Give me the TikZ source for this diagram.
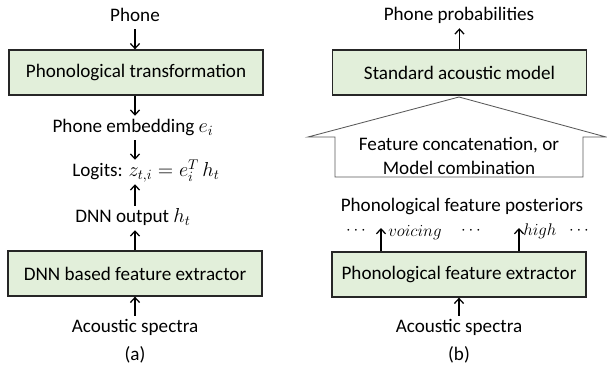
\documentclass[tikz,border=0pt]{standalone}
\usepackage{fontspec}
\setmainfont{Carlito}
\usetikzlibrary{arrows.meta}

\definecolor{boxgreen}{HTML}{E2EFDA}
\tikzset{
  block/.style={draw=black!85, line width=0.9pt, fill=boxgreen,
    minimum width=6.35cm, minimum height=1.125cm, inner sep=0pt},
  lbl/.style={inner sep=2pt, text height=10pt, text depth=3pt},
  feat/.style={inner sep=0pt, font=\fontsize{11.5pt}{13pt}\selectfont},
  arr/.style={-{Straight Barb[length=3.5pt,width=6.5pt]}, line width=0.9pt},
}

\begin{document}
\begin{tikzpicture}[x=0.025cm, y=-0.025cm, font=\fontsize{13.6pt}{16pt}\selectfont]
    \useasboundingbox (0,0) rectangle (607,368);

    % Draw (a): phone embedding side
    \node[lbl] (phoneA) at (135,17) {Phone};
    \node[block] (trans) at (136,72.5) {Phonological transformation};
    \node[lbl] (embed) at (133,128) {Phone embedding $e_i$};
    \node[lbl] (logits) at (146,172) {Logits: $z_{t,i} = e_i^{T}\,h_t$};
    \node[lbl] (dnnout) at (133,218) {DNN output $h_t$};
    \node[block] (dnn) at (135,273.5) {DNN based feature extractor};
    \node[lbl] (specA) at (135,328) {Acoustic spectra};
    \node (capA) at (135,355) {(a)};

    \draw[arr] (phoneA.south) -- (phoneA.south |- trans.north);
    \draw[arr] (phoneA.south |- trans.south) -- (phoneA.south |- embed.north);
    \draw[arr] (phoneA.south |- embed.south) -- (phoneA.south |- logits.north);
    \draw[arr] (phoneA.south |- dnnout.north) -- (phoneA.south |- logits.south);
    \draw[arr] (phoneA.south |- dnn.north) -- (phoneA.south |- dnnout.south);
    \draw[arr] (specA.north) -- (specA.north |- dnn.south);

    % Draw (b): phonological feature side
    \node[lbl] (prob) at (459,16) {Phone probabilities};
    \node[block] (sam) at (459.5,72.5) {Standard acoustic model};
    \draw[arr] (sam.north) -- (sam.north |- prob.south);

    % big combination arrow
    \draw[black!65, line width=0.6pt, fill=white] (459,97)
        -- (606,137) -- (583,137) -- (583,177) -- (335,177)
        -- (335,137) -- (308,137) -- cycle;
    \node[align=center, inner sep=0pt] (combine) at (459,156)
        {Feature concatenation, or\\[1pt]Model combination};

    \node[lbl] (post) at (462,207) {Phonological feature posteriors};
    \node[block] (pfe) at (459,274.5) {Phonological feature extractor};
    \node[lbl] (specB) at (459,328) {Acoustic spectra};
    \node (capB) at (459,355) {(b)};
    \draw[arr] (specB.north) -- (specB.north |- pfe.south);

    % feature outputs
    \coordinate (voicetip) at (381,228);
    \coordinate (hightip) at (519,228);
    \draw[arr] (voicetip |- pfe.north) -- (voicetip);
    \draw[arr] (hightip |- pfe.north) -- (hightip);
    \node[feat] (dotsA) at (356,231) {$\cdots$};
    \node[feat, anchor=west] (voicing) at (388,233) {$voicing$};
    \node[feat] (dotsB) at (471,231) {$\cdots$};
    \node[feat, anchor=west] (high) at (523,231) {$high$};
    \node[feat] (dotsC) at (579,231) {$\cdots$};

\end{tikzpicture}
\end{document}
